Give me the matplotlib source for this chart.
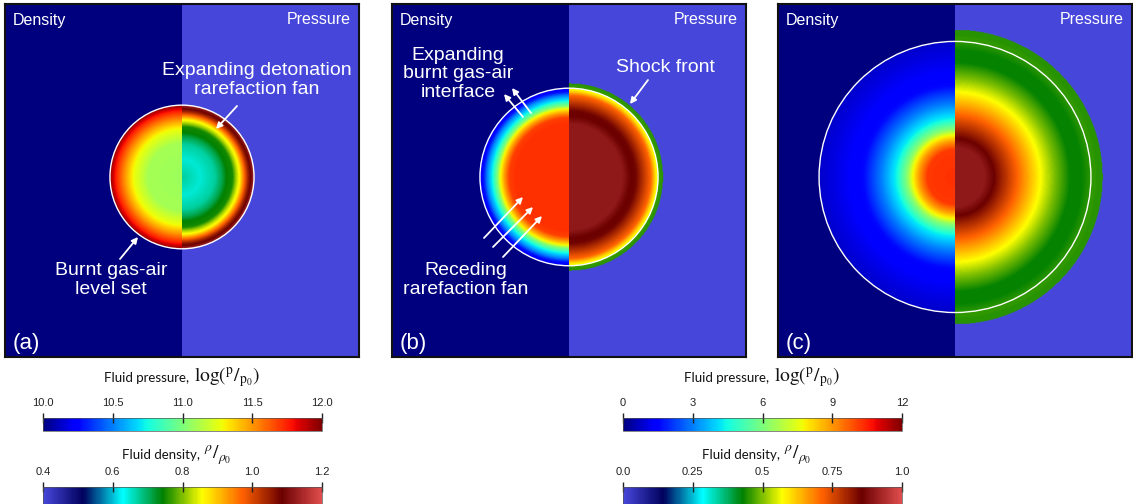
import numpy as np
import matplotlib
matplotlib.use('Agg')
import matplotlib.pyplot as plt
from matplotlib.colors import LinearSegmentedColormap, Normalize
from matplotlib.cm import ScalarMappable
from matplotlib.patches import Circle, FancyArrowPatch

plt.rcParams['mathtext.fontset'] = 'stix'

W, H = 1133, 504

# ---------------- data ----------------
panel_labels = ['(a)', '(b)', '(c)']
interface_radius = [0.407, 0.503, 0.768]      # burnt gas-air level set (domain units)

# left half (jet colour scale, pressure colourbar units)
left_r = [
    [0, 0.47, 0.58, 0.67, 0.79, 0.86, 0.92, 0.97, 1.0],
    [0, 0.30, 0.60, 0.67, 0.72, 0.77, 0.80, 0.86, 0.92, 0.96, 1.0],
    [0, 0.20, 0.26, 0.31, 0.35, 0.43, 0.54, 0.67, 0.87, 1.0],
]
left_val = [
    [11.08, 11.10, 11.20, 11.28, 11.50, 11.64, 11.76, 11.90, 11.96],
    [10.3, 10.3, 10.3, 10.1, 9.0, 7.7, 6.2, 4.4, 3.0, 1.7, 1.2],
    [10.3, 10.2, 9.0, 7.7, 6.2, 4.4, 3.0, 1.6, 1.1, 0.8],
]
# right half (desaturated rainbow scale, density colourbar units)
right_r = [
    [0, 0.25, 0.45, 0.55, 0.62, 0.70, 0.75, 0.80, 0.86, 0.91, 0.96, 1.0],
    [0, 0.60, 0.68, 0.75, 0.81, 0.87, 0.92, 0.97, 0.995, 1.005, 1.056],
    [0, 0.22, 0.28, 0.35, 0.46, 0.63, 0.73, 0.85, 0.93, 0.99, 1.01, 1.088],
]
right_val = [
    [0.672, 0.648, 0.672, 0.708, 0.744, 0.752, 0.816, 0.864, 0.960, 1.040, 1.096, 1.144],
    [0.90, 0.90, 0.86, 0.85, 0.80, 0.75, 0.71, 0.60, 0.56, 0.46, 0.45],
    [0.90, 0.90, 0.86, 0.80, 0.71, 0.57, 0.50, 0.43, 0.43, 0.45, 0.455, 0.45],
]
press_range = [(10.0, 12.0), (0.0, 12.0), (0.0, 12.0)]
dens_range = [(0.4, 1.2), (0.0, 1.0), (0.0, 1.0)]

cb_left_press_ticks = [10.0, 10.5, 11.0, 11.5, 12.0]
cb_left_press_labels = ['10.0', '10.5', '11.0', '11.5', '12.0']
cb_left_dens_ticks = [0.4, 0.6, 0.8, 1.0, 1.2]
cb_left_dens_labels = ['0.4', '0.6', '0.8', '1.0', '1.2']
cb_right_press_ticks = [0, 3, 6, 9, 12]
cb_right_press_labels = ['0', '3', '6', '9', '12']
cb_right_dens_ticks = [0.0, 0.25, 0.5, 0.75, 1.0]
cb_right_dens_labels = ['0.0', '0.25', '0.5', '0.75', '1.0']

# ---------------- colormaps ----------------
desat_pos = [0, 1/7, 2/7, 3/7, 4/7, 5/7, 6/7, 1]
desat_rgb = [(0.278, 0.278, 0.859), (0.0, 0.0, 0.361), (0.0, 1.0, 1.0), (0.0, 0.502, 0.0),
             (1.0, 1.0, 0.0), (1.0, 0.380, 0.0), (0.420, 0.0, 0.0), (0.878, 0.302, 0.302)]
desat = LinearSegmentedColormap.from_list('desat', list(zip(desat_pos, desat_rgb)))
jet = plt.get_cmap('jet')

fig = plt.figure(figsize=(W / 100, H / 100), dpi=100)


def px_axes(l, t, r, b):
    return fig.add_axes([l / W, (H - b) / H, (r - l) / W, (b - t) / H])


panel_px = [(5, 4, 359, 357), (392, 4, 746, 357), (778, 4, 1132, 357)]
cy = 0.02
N = 500

for i, (l, t, r, b) in enumerate(panel_px):
    ax = px_axes(l, t, r, b)
    R = interface_radius[i]
    pn = Normalize(*press_range[i])
    dn = Normalize(*dens_range[i])
    y = np.linspace(-1, 1, N)
    xl = np.linspace(-1, 0, N // 2)
    xr = np.linspace(0, 1, N // 2)
    XL, YL = np.meshgrid(xl, y)
    rl = np.hypot(XL, YL - cy) / R
    fl = np.interp(rl, left_r[i], left_val[i])
    fl[rl > left_r[i][-1]] = press_range[i][0]
    XR, YR = np.meshgrid(xr, y)
    rr = np.hypot(XR, YR - cy) / R
    fr = np.interp(rr, right_r[i], right_val[i])
    fr[rr > right_r[i][-1]] = dens_range[i][0]
    ax.imshow(fl, cmap=jet, norm=pn, extent=[-1, 0, -1, 1], origin='lower',
              interpolation='bilinear', aspect='auto')
    ax.imshow(fr, cmap=desat, norm=dn, extent=[0, 1, -1, 1], origin='lower',
              interpolation='bilinear', aspect='auto')
    ax.add_patch(Circle((0, cy), R, fill=False, ec='white', lw=1.0))
    ax.set_xlim(-1, 1)
    ax.set_ylim(-1, 1)
    ax.set_xticks([])
    ax.set_yticks([])
    for s in ax.spines.values():
        s.set_linewidth(1.5)
        s.set_color('#111111')
    fig.text((l + 8) / W, 1 - (t + 16) / H, 'Density', color='white', fontsize=11.5,
             family='Liberation Sans', va='center', ha='left')
    fig.text((r - 8) / W, 1 - (t + 16) / H, 'Pressure', color='white', fontsize=11.5,
             family='Liberation Sans', va='center', ha='right')
    fig.text((l + 8) / W, 1 - 343 / H, panel_labels[i], color='white', fontsize=16,
             family='Liberation Sans', va='center', ha='left')

# ---------------- annotations ----------------
tkw = dict(color='white', fontsize=14, family='Liberation Sans', ha='center',
           va='center', linespacing=1.15)
aprops = dict(arrowstyle='-|>', color='white', lw=1.3, mutation_scale=9,
              shrinkA=0, shrinkB=0)


def arrow(x0, y0, x1, y1):
    fig.add_artist(FancyArrowPatch(
        posA=(x0 / W, 1 - y0 / H), posB=(x1 / W, 1 - y1 / H),
        transform=fig.transFigure, **aprops))


fig.text(257 / W, 1 - 80 / H, 'Expanding detonation\nrarefaction fan', **tkw)
arrow(237, 106, 216, 129)
fig.text(111 / W, 1 - 280 / H, 'Burnt gas-air\nlevel set', **tkw)
arrow(120, 259, 138, 237)

fig.text(458 / W, 1 - 74 / H, 'Expanding\nburnt gas-air\ninterface', **tkw)
arrow(523, 117, 504, 94)
arrow(531, 113, 512, 88)
fig.text(665 / W, 1 - 68 / H, 'Shock front', **tkw)
arrow(648, 80, 630, 104)
fig.text(466 / W, 1 - 280 / H, 'Receding\nrarefaction fan', **tkw)
arrow(484, 238, 523, 197)
arrow(493, 247, 533, 207)
arrow(503, 257, 542, 216)

# ---------------- colourbars ----------------
ptext, pmath = 'Fluid pressure, ', r'$\mathrm{log}\left({}^{\mathrm{p}}/{}_{\mathrm{p}_{0}}\right)$'
dtext, dmath = 'Fluid density, ', r'${}^{\rho}/{}_{\rho_{0}}$'


def cbar(l, t, r, b, cmap, norm, ticks, labels, title, split_x, base_y):
    cax = px_axes(l, t, r, b)
    cb = fig.colorbar(ScalarMappable(norm=norm, cmap=cmap), cax=cax,
                      orientation='horizontal', ticks=ticks)
    cax.xaxis.set_ticks_position('top')
    cax.set_xticklabels(labels)
    cax.tick_params(direction='inout', length=7, width=1.0, labelsize=8,
                    pad=3.5, colors='#222222')
    for lab in cax.get_xticklabels():
        lab.set_family('Liberation Sans')
    cb.outline.set_linewidth(0.5)
    cb.outline.set_edgecolor('#555555')
    fig.text(split_x / W, 1 - base_y / H, title[0], ha='right', va='baseline',
             fontsize=9.5, family='Lato', color='#111111')
    fig.text((split_x + 1) / W, 1 - base_y / H, title[1], ha='left', va='baseline',
             fontsize=14, color='#111111')


cbar(43, 418, 322, 431, jet, Normalize(10, 12), cb_left_press_ticks,
     cb_left_press_labels, (ptext, pmath), 193, 382)
cbar(43, 487, 322, 507, desat, Normalize(0.4, 1.2), cb_left_dens_ticks,
     cb_left_dens_labels, (dtext, dmath), 203, 459)
cbar(623, 418, 902, 431, jet, Normalize(0, 12), cb_right_press_ticks,
     cb_right_press_labels, (ptext, pmath), 773, 382)
cbar(623, 487, 902, 507, desat, Normalize(0, 1), cb_right_dens_ticks,
     cb_right_dens_labels, (dtext, dmath), 783, 459)

fig.savefig('out.png', dpi=100)
